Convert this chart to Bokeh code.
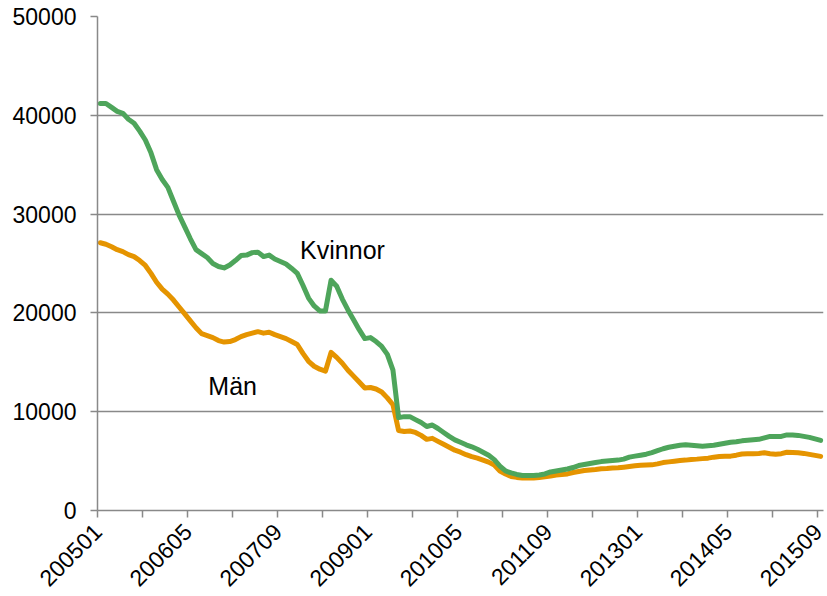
import math
from bokeh.plotting import figure
from bokeh.models import FixedTicker, Range1d, Label
from bokeh.embed import file_html
from bokeh.resources import INLINE

# month index 0 = 200501 ... 128 = 201509
tick_labels = ["200501", "200605", "200709", "200901", "201005",
               "201109", "201301", "201405", "201509"]

kvinnor = [41200, 41200, 40800, 40400, 40200, 39600, 39200, 38400, 37500, 36200,
           34500, 33500, 32700, 31300, 29900, 28700, 27500, 26400, 26000, 25600,
           25000, 24700, 24550, 24850, 25300, 25800, 25850, 26100, 26150, 25700,
           25850, 25450, 25200, 24950, 24500, 24000, 22800, 21500, 20700, 20200,
           20200, 23300, 22700, 21400, 20300, 19300, 18300, 17400, 17500, 17100,
           16600, 15800, 14200, 9400, 9500, 9500, 9200, 8900, 8500, 8650,
           8300, 7900, 7500, 7150, 6900, 6650, 6450, 6200, 5900, 5600,
           5150, 4500, 4000, 3800, 3650, 3550, 3550, 3550, 3600, 3700,
           3900, 4000, 4100, 4200, 4350, 4550, 4650, 4750, 4850, 4950,
           5000, 5050, 5100, 5200, 5400, 5500, 5600, 5700, 5850, 6050,
           6250, 6400, 6500, 6600, 6650, 6600, 6550, 6500, 6550, 6600,
           6700, 6800, 6900, 6950, 7050, 7100, 7150, 7200, 7350, 7500,
           7500, 7500, 7650, 7650, 7600, 7500, 7400, 7250, 7100]

man = [27100, 26950, 26700, 26400, 26200, 25900, 25700, 25300, 24800, 24000,
       23100, 22400, 21900, 21300, 20600, 19900, 19200, 18500, 17900, 17700,
       17500, 17200, 17050, 17100, 17300, 17600, 17800, 17950, 18100, 17950,
       18050, 17800, 17600, 17400, 17100, 16800, 15900, 15100, 14600, 14300,
       14100, 16000, 15500, 14900, 14200, 13600, 13000, 12400, 12450, 12300,
       12000, 11400, 10700, 8100, 8000, 8050, 7900, 7600, 7200, 7300,
       7000, 6700, 6400, 6100, 5900, 5650, 5450, 5300, 5100, 4900,
       4600, 4000, 3700, 3450, 3350, 3280, 3280, 3300, 3350, 3420,
       3500, 3600, 3650, 3700, 3850, 3950, 4050, 4100, 4150, 4220,
       4250, 4300, 4320, 4380, 4450, 4520, 4580, 4600, 4620, 4720,
       4850, 4920, 4980, 5050, 5100, 5170, 5200, 5250, 5300, 5400,
       5470, 5490, 5500, 5600, 5720, 5740, 5740, 5780, 5840, 5750,
       5700, 5750, 5900, 5880, 5840, 5780, 5680, 5580, 5480]

y_ticks = [0, 10000, 20000, 30000, 40000, 50000]

months = list(range(len(kvinnor)))

GRAY = "#898989"
FONT = "Liberation Sans"

p = figure(width=827, height=596, x_range=Range1d(-0.5, 128.5),
           y_range=Range1d(0, 50000), output_backend="svg",
           toolbar_location=None, min_border_left=97, min_border_right=4,
           min_border_top=16, min_border_bottom=86)
p.outline_line_color = None
p.background_fill_color = "white"

p.line(months, man, line_color="#E59400", line_width=5, line_join="round", line_cap="round")
p.line(months, kvinnor, line_color="#4EA55B", line_width=5, line_join="round", line_cap="round")

# x axis: tick marks between months, labels every 16 months
label_pos = [16 * i - 0.5 for i in range(len(tick_labels))]
p.xaxis.ticker = FixedTicker(ticks=label_pos,
                             minor_ticks=[-0.5 + 8 * k for k in range(17)])
p.xaxis.major_label_overrides = {pos: lab for pos, lab in zip(label_pos, tick_labels)}
p.xaxis.major_tick_out = 0
p.xaxis.major_tick_in = 0
p.xaxis.minor_tick_out = 7
p.xaxis.minor_tick_in = 0
p.xaxis.minor_tick_line_color = GRAY
p.xaxis.minor_tick_line_width = 1.5
p.xaxis.major_label_orientation = math.pi / 4
p.xaxis.major_label_standoff = 10
p.xaxis.major_label_text_font = FONT
p.xaxis.major_label_text_font_size = "23px"
p.xaxis.major_label_text_color = "black"
p.xaxis.axis_line_color = GRAY
p.xaxis.axis_line_width = 1.5
p.xgrid.visible = False

# y axis
p.yaxis.ticker = FixedTicker(ticks=y_ticks, minor_ticks=[])
p.yaxis.major_label_overrides = {v: str(v) for v in y_ticks}
p.yaxis.major_tick_out = 7
p.yaxis.major_tick_in = 0
p.yaxis.major_tick_line_color = GRAY
p.yaxis.major_tick_line_width = 1.5
p.yaxis.minor_tick_line_color = None
p.yaxis.major_label_standoff = 14
p.yaxis.major_label_text_font = FONT
p.yaxis.major_label_text_font_size = "23px"
p.yaxis.major_label_text_color = "black"
p.yaxis.axis_line_color = GRAY
p.yaxis.axis_line_width = 1.5
p.ygrid.ticker = FixedTicker(ticks=y_ticks)
p.ygrid.grid_line_color = GRAY
p.ygrid.grid_line_width = 1.5

# series labels
p.add_layout(Label(x=35.5, y=26400, text="Kvinnor", text_font=FONT,
                   text_font_size="25px", text_color="black",
                   text_baseline="alphabetic"))
p.add_layout(Label(x=19.2, y=12650, text="Män", text_font=FONT,
                   text_font_size="25px", text_color="black",
                   text_baseline="alphabetic"))

open("out.html", "w").write(file_html(p, INLINE))
